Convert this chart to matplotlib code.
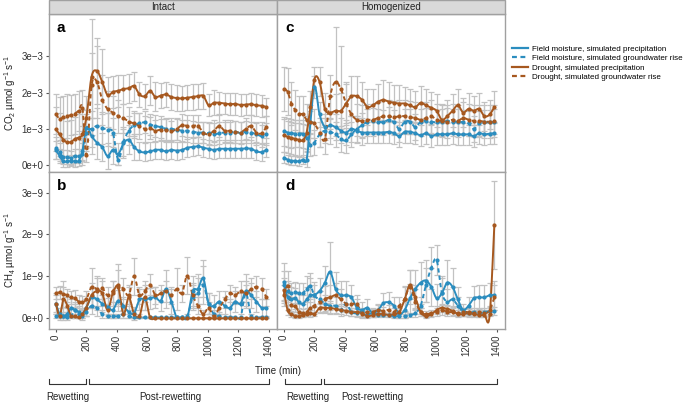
import numpy as np
import matplotlib
matplotlib.use("Agg")
import matplotlib.pyplot as plt
from matplotlib.lines import Line2D
from matplotlib.transforms import blended_transform_factory

plt.rcParams['font.family'] = ['Liberation Sans', 'DejaVu Sans']
plt.rcParams['mathtext.default'] = 'regular'

# ---------------- data ----------------
time = [0, 25, 50, 75, 100, 125, 150, 175, 200, 235, 270, 305, 340, 375, 410, 445, 480, 515,
        550, 585, 620, 655, 690, 725, 760, 795, 830, 865, 900, 935, 970, 1005, 1040, 1075,
        1110, 1145, 1180, 1215, 1250, 1285, 1320, 1355, 1385]

series_labels = ["Field moisture, simulated precipitation",
                 "Field moisture, simulated groundwater rise",
                 "Drought, simulated precipitation",
                 "Drought, simulated groundwater rise"]
facet_labels = ["Intact", "Homogenized"]
panel_letters = ["a", "c", "b", "d"]
x_ticks = [0, 200, 400, 600, 800, 1000, 1200, 1400]
co2_ticks = [0, 1e-3, 2e-3, 3e-3]
co2_tick_labels = ["0e+0", "1e\u22123", "2e\u22123", "3e\u22123"]
ch4_ticks = [0, 1e-9, 2e-9, 3e-9]
ch4_tick_labels = ["0e+0", "1e\u22129", "2e\u22129", "3e\u22129"]

# Panel a: Intact CO2 (x 1e-3)
a_FP = [0.42, 0.25, 0.1, 0.1, 0.12, 0.1, 0.12, 0.4, 1.02, 0.8, 0.62, 0.5, 0.25, 0.42, 0.3, 0.6, 0.7, 0.5,
        0.38, 0.35, 0.38, 0.42, 0.42, 0.38, 0.42, 0.4, 0.42, 0.48, 0.5, 0.52, 0.48, 0.45, 0.42, 0.45,
        0.45, 0.45, 0.45, 0.45, 0.46, 0.45, 0.38, 0.36, 0.42]
a_FG = [0.48, 0.35, 0.22, 0.22, 0.2, 0.25, 0.25, 0.3, 0.9, 1.0, 1.08, 1.02, 0.98, 0.9, 0.15, 0.65, 0.95, 1.1,
        1.15, 1.18, 1.12, 1.08, 1.05, 1.0, 1.0, 0.98, 0.95, 0.95, 0.92, 0.9, 0.9, 0.88, 0.85, 0.88,
        0.9, 0.9, 0.92, 0.88, 0.92, 0.9, 0.85, 0.8, 0.85]
a_DP = [0.99, 0.85, 0.7, 0.63, 0.64, 0.72, 0.76, 0.85, 1.3, 2.44, 2.6, 2.3, 1.93, 2.02, 2.05, 2.1, 2.12, 2.18,
        1.95, 1.9, 2.05, 1.88, 1.92, 1.95, 1.88, 1.85, 1.84, 1.86, 1.88, 1.9, 1.91, 1.65, 1.72, 1.72,
        1.7, 1.68, 1.69, 1.66, 1.67, 1.68, 1.65, 1.64, 1.6]
a_DG = [1.4, 1.28, 1.32, 1.35, 1.38, 1.42, 1.5, 1.58, 0.28, 2.2, 2.3, 1.8, 1.55, 1.45, 1.35, 1.3, 1.2, 1.15,
        1.08, 1.0, 1.02, 0.95, 0.98, 0.97, 0.93, 1.0, 1.1, 1.08, 1.08, 1.08, 0.9, 0.85, 0.95, 1.08,
        0.95, 0.95, 0.92, 0.9, 1.0, 1.08, 0.9, 0.88, 1.05]
a_FP_err = [0.25, 0.2, 0.15, 0.15, 0.15, 0.15, 0.15, 0.3, 0.5, 0.5, 0.45, 0.4, 0.35, 0.4, 0.3, 0.4, 0.4, 0.35,
            0.25, 0.25, 0.25, 0.25, 0.25, 0.25, 0.25, 0.25, 0.25, 0.25, 0.25, 0.25, 0.25, 0.25, 0.25, 0.25,
            0.25, 0.25, 0.25, 0.25, 0.25, 0.25, 0.25, 0.25, 0.2]
a_FG_err = [0.3, 0.25, 0.2, 0.2, 0.2, 0.2, 0.2, 0.3, 0.5, 0.5, 0.5, 0.45, 0.45, 0.4, 0.15, 0.4, 0.4, 0.35,
            0.3, 0.3, 0.3, 0.3, 0.3, 0.3, 0.3, 0.3, 0.3, 0.3, 0.3, 0.3, 0.3, 0.3, 0.3, 0.3,
            0.3, 0.3, 0.3, 0.3, 0.3, 0.3, 0.3, 0.3, 0.3]
a_DP_err = [0.6, 0.6, 0.6, 0.6, 0.6, 0.6, 0.65, 0.7, 0.6, 1.6, 0.9, 0.9, 0.5, 0.45, 0.45, 0.4, 0.4, 0.4,
            0.35, 0.35, 0.4, 0.4, 0.35, 0.35, 0.35, 0.35, 0.35, 0.35, 0.35, 0.35, 0.35, 0.3, 0.35, 0.3,
            0.3, 0.3, 0.3, 0.3, 0.3, 0.3, 0.3, 0.3, 0.25]
a_DG_err = [0.55, 0.6, 0.6, 0.6, 0.55, 0.55, 0.55, 0.5, 0.2, 0.9, 1.0, 0.7, 0.5, 0.45, 0.45, 0.4, 0.4, 0.35,
            0.35, 0.35, 0.3, 0.3, 0.3, 0.3, 0.3, 0.3, 0.3, 0.3, 0.3, 0.3, 0.3, 0.3, 0.3, 0.3,
            0.3, 0.3, 0.3, 0.3, 0.3, 0.3, 0.3, 0.3, 0.3]

# Panel c: Homogenized CO2 (x 1e-3)
c_FP = [0.2, 0.15, 0.12, 0.12, 0.1, 0.15, 0.15, 1.2, 2.15, 1.4, 1.05, 1.1, 1.05, 0.95, 0.9, 1.0, 0.95, 0.9,
        0.9, 0.9, 0.9, 0.9, 0.92, 0.88, 0.8, 0.92, 0.92, 0.88, 0.82, 0.88, 0.8, 0.85, 0.85, 0.85,
        0.88, 0.85, 0.85, 0.85, 0.8, 0.88, 0.85, 0.87, 0.88]
c_FG = [0.93, 0.9, 0.88, 0.87, 0.87, 0.86, 0.75, 0.55, 0.62, 0.85, 0.95, 0.92, 0.85, 0.72, 0.68, 0.85, 1.0, 1.1,
        1.2, 1.22, 1.2, 1.18, 1.25, 1.18, 1.0, 1.2, 1.2, 1.05, 1.2, 1.22, 1.2, 1.18, 1.2, 1.22,
        1.2, 1.2, 1.18, 1.15, 1.0, 1.15, 1.18, 1.18, 1.2]
c_DP = [0.82, 0.78, 0.75, 0.72, 0.7, 0.68, 0.9, 1.6, 2.35, 2.3, 1.55, 1.45, 1.5, 1.5, 1.7, 1.9, 1.9, 1.8,
        1.6, 1.65, 1.75, 1.8, 1.75, 1.72, 1.7, 1.7, 1.65, 1.6, 1.72, 1.65, 1.58, 1.5, 1.25, 1.35,
        1.5, 1.65, 1.45, 1.55, 1.5, 1.55, 1.35, 1.4, 1.6]
c_DG = [2.1, 2.02, 1.7, 1.52, 1.42, 1.4, 1.25, 1.2, 1.15, 0.9, 0.72, 1.9, 2.3, 2.1, 1.7, 1.4, 1.25, 1.22,
        1.25, 1.25, 1.3, 1.35, 1.35, 1.32, 1.35, 1.35, 1.32, 1.3, 1.25, 1.3, 1.35, 1.25, 1.22, 1.2,
        1.25, 1.22, 1.3, 1.25, 1.22, 1.22, 1.2, 1.2, 1.22]
c_FP_err = [0.15, 0.12, 0.12, 0.12, 0.12, 0.12, 0.2, 0.3, 0.3, 0.35, 0.35, 0.35, 0.35, 0.35, 0.35, 0.35, 0.35, 0.35,
            0.3, 0.3, 0.3, 0.3, 0.3, 0.3, 0.3, 0.3, 0.3, 0.3, 0.3, 0.3, 0.3, 0.3, 0.3, 0.3,
            0.3, 0.3, 0.3, 0.3, 0.3, 0.3, 0.3, 0.3, 0.3]
c_FG_err = [0.4, 0.4, 0.4, 0.38, 0.38, 0.38, 0.35, 0.3, 0.35, 0.35, 0.35, 0.35, 0.35, 0.35, 0.35, 0.35, 0.35, 0.35,
            0.35, 0.35, 0.35, 0.35, 0.35, 0.35, 0.35, 0.35, 0.35, 0.35, 0.35, 0.35, 0.35, 0.35, 0.35, 0.35,
            0.35, 0.35, 0.35, 0.35, 0.35, 0.35, 0.35, 0.35, 0.35]
c_DP_err = [0.45, 0.45, 0.45, 0.45, 0.45, 0.45, 0.45, 0.45, 0.35, 0.4, 0.45, 0.45, 0.45, 0.5, 0.55, 0.55, 0.55, 0.5,
            0.5, 0.45, 0.5, 0.55, 0.55, 0.5, 0.5, 0.45, 0.45, 0.45, 0.45, 0.45, 0.45, 0.45, 0.45, 0.45,
            0.45, 0.45, 0.4, 0.45, 0.4, 0.45, 0.4, 0.4, 0.45]
c_DG_err = [0.6, 0.65, 0.6, 0.55, 0.5, 0.5, 0.45, 0.45, 0.4, 0.4, 0.4, 0.6, 1.5, 1.2, 0.6, 0.5, 0.45, 0.45,
            0.45, 0.45, 0.45, 0.45, 0.45, 0.45, 0.45, 0.45, 0.45, 0.45, 0.45, 0.45, 0.45, 0.45, 0.45, 0.45,
            0.45, 0.45, 0.45, 0.45, 0.45, 0.45, 0.45, 0.45, 0.45]

# Panel b: Intact CH4 (x 1e-9)
b_FP = [0.35, 0.1, 0.05, 0.1, 0.25, 0.2, 0.15, 0.1, 0.25, 0.5, 0.45, 0.35, 0.28, 0.2, 0.42, 0.3, 0.15, 0.12,
        0.45, 0.45, 0.48, 0.5, 0.42, 0.7, 0.4, 0.02, 0.02, 0.02, 0.65, 0.7, 0.95, 0.35, 0.3, 0.4,
        0.3, 0.25, 0.4, 0.35, 0.65, 0.55, 0.4, 0.25, 0.25]
b_FG = [0.05, 0.05, 0.05, 0.02, 0.05, 0.2, 0.1, 0.05, 0.15, 0.3, 0.25, 0.1, 0.05, 0.05, 0.05, 0.1, 0.05, 0.02,
        0.02, 0.02, 0.02, 0.02, 0.02, 0.02, 0.02, 0.02, 0.02, 0.05, 0.5, 0.6, 0.8, 0.35, 0.1, 0.05,
        0.02, 0.02, 0.02, 0.02, 0.6, 0.05, 0.02, 0.02, 0.02]
b_DP = [0.35, 0.05, 0.45, 0.3, 0.05, 0.05, 0.02, 0.1, 0.25, 0.55, 0.65, 0.6, 0.2, 0.6, 0.75, 0.1, 0.5, 0.1,
        0.05, 0.5, 0.02, 0.0, 0.0, 0.0, 0.0, 0.0, 0.0, 0.0, 0.0, 0.0, 0.0, 0.0, 0.0, 0.0,
        0.0, 0.0, 0.0, 0.0, 0.0, 0.0, 0.0, 0.0, 0.0]
b_DG = [0.6, 0.62, 0.58, 0.55, 0.5, 0.48, 0.4, 0.38, 0.45, 0.75, 0.7, 0.72, 0.55, 0.65, 0.8, 0.7, 0.55, 1.0,
        0.55, 0.65, 0.8, 0.55, 0.6, 0.65, 0.55, 0.7, 0.6, 1.02, 0.55, 0.3, 0.1, 0.25, 0.05, 0.25,
        0.45, 0.6, 0.55, 0.65, 0.6, 0.7, 0.75, 0.7, 0.5]
b_FP_err = [0.2, 0.15, 0.1, 0.15, 0.2, 0.2, 0.15, 0.15, 0.2, 0.25, 0.25, 0.2, 0.2, 0.2, 0.25, 0.2, 0.15, 0.15,
            0.25, 0.25, 0.25, 0.25, 0.25, 0.45, 0.3, 0.02, 0.02, 0.02, 0.35, 0.35, 0.45, 0.25, 0.25, 0.25,
            0.2, 0.2, 0.25, 0.25, 0.4, 0.3, 0.25, 0.2, 0.2]
b_FG_err = [0.05, 0.05, 0.05, 0.02, 0.05, 0.15, 0.1, 0.05, 0.1, 0.2, 0.2, 0.1, 0.05, 0.05, 0.05, 0.1, 0.05, 0.02,
            0.02, 0.02, 0.02, 0.02, 0.02, 0.02, 0.02, 0.02, 0.02, 0.05, 0.3, 0.35, 0.45, 0.25, 0.1, 0.05,
            0.02, 0.02, 0.02, 0.02, 0.3, 0.05, 0.02, 0.02, 0.02]
b_DP_err = [0.25, 0.05, 0.3, 0.2, 0.05, 0.05, 0.02, 0.1, 0.2, 0.3, 0.35, 0.3, 0.15, 0.3, 0.4, 0.1, 0.3, 0.1,
            0.05, 0.3, 0.02, 0.0, 0.0, 0.0, 0.0, 0.0, 0.0, 0.0, 0.0, 0.0, 0.0, 0.0, 0.0, 0.0,
            0.0, 0.0, 0.0, 0.0, 0.0, 0.0, 0.0, 0.0, 0.0]
b_DG_err = [0.15, 0.15, 0.3, 0.15, 0.15, 0.2, 0.15, 0.15, 0.2, 0.45, 0.25, 0.25, 0.2, 0.25, 0.5, 0.25, 0.2, 0.45,
            0.2, 0.25, 0.25, 0.2, 0.2, 0.25, 0.2, 0.5, 0.2, 0.45, 0.3, 0.2, 0.1, 0.15, 0.05, 0.15,
            0.2, 0.2, 0.2, 0.25, 0.2, 0.25, 0.25, 0.25, 0.2]

# Panel d: Homogenized CH4 (x 1e-9)
d_FP = [0.87, 0.5, 0.45, 0.48, 0.38, 0.35, 0.45, 0.55, 0.56, 0.65, 0.85, 1.11, 0.7, 0.55, 0.55, 0.5, 0.25, 0.2,
        0.25, 0.12, 0.2, 0.36, 0.38, 0.3, 0.1, 0.2, 0.48, 0.7, 0.85, 0.9, 0.75, 0.48, 0.6, 0.85,
        0.75, 0.45, 0.2, 0.3, 0.48, 0.5, 0.5, 0.55, 0.55]
d_FG = [0.79, 0.65, 0.6, 0.62, 0.6, 0.6, 0.7, 0.77, 0.55, 0.45, 0.35, 0.3, 0.3, 0.2, 0.35, 0.15, 0.12, 0.15,
        0.1, 0.12, 0.08, 0.07, 0.08, 0.05, 0.05, 0.05, 0.08, 0.12, 0.3, 0.79, 1.2, 1.39, 0.6, 0.4,
        0.45, 0.3, 0.15, 0.12, 0.15, 0.12, 0.15, 0.17, 0.17]
d_DP = [0.67, 0.19, 0.1, 0.05, 0.05, 0.08, 0.1, 0.12, 0.1, 0.25, 0.25, 0.25, 0.22, 0.2, 0.18, 0.15, 0.15, 0.12,
        0.05, 0.08, 0.1, 0.1, 0.08, 0.1, 0.15, 0.45, 0.8, 0.5, 0.15, 0.05, 0.1, 0.2, 0.25, 0.22,
        0.18, 0.1, 0.1, 0.12, 0.1, 0.08, 0.08, 0.1, 2.23]
d_DG = [0.55, 0.78, 0.32, 0.3, 0.15, 0.12, 0.15, 0.25, 0.3, 0.4, 0.47, 0.5, 0.55, 0.45, 0.35, 0.33, 0.35, 0.1,
        0.15, 0.15, 0.2, 0.17, 0.2, 0.15, 0.3, 0.47, 0.75, 0.4, 0.15, 0.1, 0.12, 0.15, 0.2, 0.15,
        0.15, 0.12, 0.15, 0.15, 0.12, 0.15, 0.12, 0.2, 0.5]
d_FP_err = [0.45, 0.3, 0.3, 0.25, 0.2, 0.2, 0.3, 0.4, 0.3, 0.3, 0.4, 0.7, 0.4, 0.35, 0.35, 0.3, 0.2, 0.2,
            0.2, 0.1, 0.15, 0.25, 0.25, 0.2, 0.1, 0.2, 0.35, 0.45, 0.5, 0.5, 0.45, 0.35, 0.4, 0.55,
            0.45, 0.3, 0.15, 0.2, 0.3, 0.3, 0.3, 0.3, 0.35]
d_FG_err = [0.35, 0.25, 0.25, 0.25, 0.25, 0.25, 0.3, 0.3, 0.25, 0.2, 0.2, 0.2, 0.2, 0.15, 0.2, 0.1, 0.1, 0.1,
            0.08, 0.08, 0.05, 0.05, 0.05, 0.05, 0.05, 0.05, 0.05, 0.1, 0.2, 0.4, 0.5, 0.35, 0.35, 0.3,
            0.3, 0.2, 0.1, 0.1, 0.1, 0.1, 0.1, 0.1, 0.1]
d_DP_err = [0.3, 0.12, 0.08, 0.05, 0.05, 0.05, 0.05, 0.08, 0.05, 0.12, 0.12, 0.12, 0.1, 0.1, 0.1, 0.1, 0.1, 0.08,
            0.05, 0.05, 0.05, 0.05, 0.05, 0.05, 0.1, 0.3, 0.35, 0.3, 0.1, 0.05, 0.05, 0.1, 0.1, 0.1,
            0.1, 0.05, 0.05, 0.05, 0.05, 0.05, 0.05, 0.05, 1.05]
d_DG_err = [0.25, 0.35, 0.2, 0.15, 0.1, 0.1, 0.1, 0.15, 0.2, 0.25, 0.3, 0.3, 0.3, 0.25, 0.2, 0.2, 0.2, 0.08,
            0.1, 0.1, 0.12, 0.1, 0.12, 0.1, 0.2, 0.3, 0.4, 0.3, 0.1, 0.08, 0.08, 0.1, 0.12, 0.1,
            0.1, 0.08, 0.1, 0.1, 0.08, 0.1, 0.08, 0.1, 0.3]

# ---------------- style ----------------
BLUE = "#2b8dbf"
BROWN = "#a6581f"
ERR = "#c2c2c2"
SPINE = "#a0a0a0"
DASH = (0, (2.2, 1.6))


def smooth(x, y, n=10):
    x = np.asarray(x, float)
    y = np.asarray(y, float)
    m = np.gradient(y, x)
    xs, ys = [], []
    s = np.linspace(0, 1, n, endpoint=False)
    h00 = 2 * s**3 - 3 * s**2 + 1
    h10 = s**3 - 2 * s**2 + s
    h01 = -2 * s**3 + 3 * s**2
    h11 = s**3 - s**2
    for i in range(len(x) - 1):
        h = x[i + 1] - x[i]
        xs.append(x[i] + s * h)
        ys.append(h00 * y[i] + h10 * h * m[i] + h01 * y[i + 1] + h11 * h * m[i + 1])
    xs.append([x[-1]])
    ys.append([y[-1]])
    return np.concatenate(xs), np.concatenate(ys)


W, H = 685, 403
fig = plt.figure(figsize=(W / 100, H / 100), dpi=100)


def fx(px):
    return px / W


def fy(py):
    return 1 - py / H


L, MID, R = 49, 277, 505
TOP, ROW, BOT = 14, 172, 329
ax_a = fig.add_axes([fx(L), fy(ROW), fx(MID - L), (ROW - TOP) / H])
ax_c = fig.add_axes([fx(MID), fy(ROW), fx(R - MID), (ROW - TOP) / H])
ax_b = fig.add_axes([fx(L), fy(BOT), fx(MID - L), (BOT - ROW) / H])
ax_d = fig.add_axes([fx(MID), fy(BOT), fx(R - MID), (BOT - ROW) / H])

panels = [
    (ax_a, 1e-3, [(a_FP, a_FP_err), (a_FG, a_FG_err), (a_DP, a_DP_err), (a_DG, a_DG_err)]),
    (ax_c, 1e-3, [(c_FP, c_FP_err), (c_FG, c_FG_err), (c_DP, c_DP_err), (c_DG, c_DG_err)]),
    (ax_b, 1e-9, [(b_FP, b_FP_err), (b_FG, b_FG_err), (b_DP, b_DP_err), (b_DG, b_DG_err)]),
    (ax_d, 1e-9, [(d_FP, d_FP_err), (d_FG, d_FG_err), (d_DP, d_DP_err), (d_DG, d_DG_err)]),
]
styles = [(BLUE, '-'), (BLUE, DASH), (BROWN, '-'), (BROWN, DASH)]

for (ax, scale, ser), letter in zip(panels, panel_letters):
    t = np.array(time, float)
    for (vals, err), (col, ls) in zip(ser, styles):
        v = np.array(vals) * scale
        e = np.array(err) * scale
        ax.errorbar(t, v, yerr=e, fmt='none', ecolor=ERR, elinewidth=0.9,
                    capsize=2.5, capthick=0.9, zorder=1)
    for (vals, err), (col, ls) in zip(ser, styles):
        v = np.array(vals) * scale
        xs, ys = smooth(t, v)
        ax.plot(xs, ys, color=col, lw=1.4, linestyle=ls, zorder=3)
        ax.plot(t, v, 'o', color=col, ms=3.0, mec='none', zorder=4)
    ax.set_xlim(-45, 1455)
    for sp in ax.spines.values():
        sp.set_color(SPINE)
        sp.set_linewidth(1.0)
    ax.text(0.035, 0.955, letter, transform=ax.transAxes, fontsize=11,
            fontweight='bold', va='top', ha='left')
    ax.tick_params(axis='both', colors='#555555', labelcolor='#333333',
                   labelsize=7, length=2.5, width=0.8, pad=1.5)

for ax in (ax_a, ax_c):
    ax.set_ylim(-0.19e-3, 4.17e-3)
for ax in (ax_b, ax_d):
    ax.set_ylim(-0.255e-9, 3.49e-9)

ax_a.set_yticks(co2_ticks)
ax_a.set_yticklabels(co2_tick_labels)
ax_b.set_yticks(ch4_ticks)
ax_b.set_yticklabels(ch4_tick_labels)
for ax in (ax_c, ax_d):
    ax.set_yticks(co2_ticks if ax is ax_c else ch4_ticks)
    ax.tick_params(axis='y', left=False, labelleft=False)
for ax in (ax_a, ax_c):
    ax.set_xticks(x_ticks)
    ax.tick_params(axis='x', bottom=False, labelbottom=False)
for ax in (ax_b, ax_d):
    ax.set_xticks(x_ticks)
    ax.set_xticklabels([str(v) for v in x_ticks], rotation=90)

ax_a.set_ylabel("CO$_2$ \u00b5mol g$^{\u22121}$ s$^{\u22121}$", fontsize=7, color='#222222')
ax_b.set_ylabel("CH$_4$ \u00b5mol g$^{\u22121}$ s$^{\u22121}$", fontsize=7, color='#222222')
ax_a.yaxis.set_label_coords(-0.135, 0.5)
ax_b.yaxis.set_label_coords(-0.135, 0.5)

# facet strips
for (x0, x1), lab in zip([(L, MID), (MID, R)], facet_labels):
    rect = plt.Rectangle((fx(x0), fy(TOP)), fx(x1 - x0), TOP / H, transform=fig.transFigure,
                         facecolor='#d9d9d9', edgecolor=SPINE, lw=1.0)
    fig.patches.append(rect)
    fig.text(fx((x0 + x1) / 2), fy(TOP / 2), lab, ha='center', va='center',
             fontsize=7, color='#222222')

fig.text(fx(278), fy(371), "Time (min)", ha='center', va='center', fontsize=7, color='#222222')

# phase brackets
bracket_y = fy(384)
tick_y = fy(379)
label_y = fy(397)
phases = [
    (ax_b, [(-45, 200, 80, "Rewetting"), (215, 1400, 750, "Post-rewetting")]),
    (ax_d, [(8, 245, 157, "Rewetting"), (265, 1400, 580, "Post-rewetting")]),
]
for ax, items in phases:
    tr = blended_transform_factory(ax.transData, fig.transFigure)
    for x0, x1, xl, lab in items:
        ln = Line2D([x0, x0, x1, x1], [tick_y, bracket_y, bracket_y, tick_y], transform=tr,
                    color='#333333', lw=0.8, clip_on=False)
        fig.lines.append(ln)
        fig.text(xl, label_y, lab, transform=tr, ha='center', va='center',
                 fontsize=7, color='#222222')

# legend
handles = [Line2D([0], [0], color=c, lw=1.6, linestyle=ls) for c, ls in styles]
fig.legend(handles, series_labels, loc='upper left', bbox_to_anchor=(fx(509), fy(42)),
           frameon=False, fontsize=5.8, handlelength=2.0, handletextpad=0.4,
           labelspacing=0.22, borderaxespad=0)

fig.savefig("out.png", dpi=100)
